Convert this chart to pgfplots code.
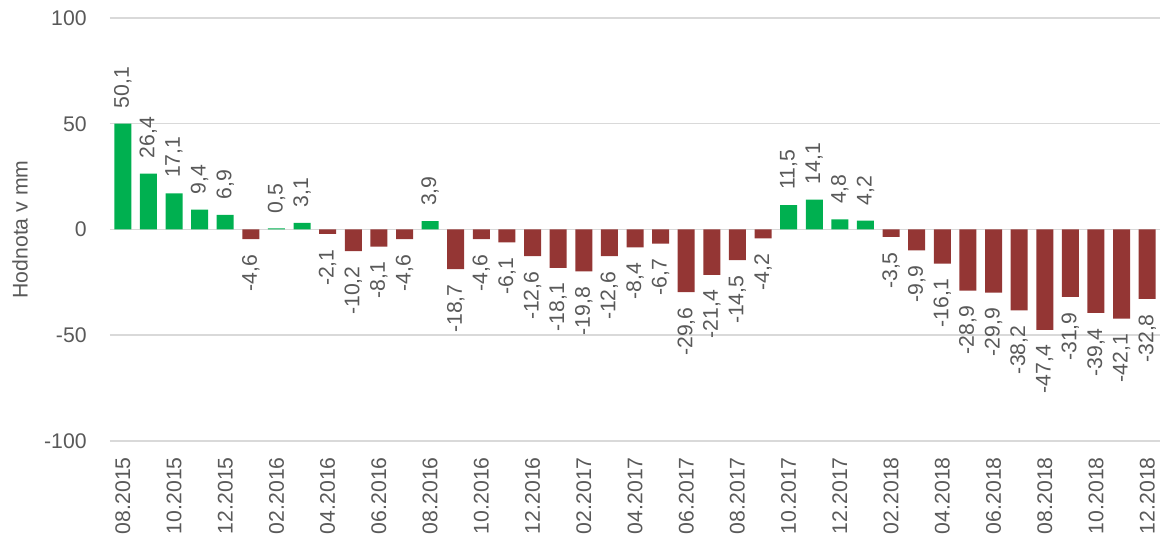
\documentclass[border=0pt]{standalone}
\usepackage{fontspec}
\setmainfont{Liberation Sans}
\usepackage{pgfplots}
\pgfplotsset{compat=1.18}
\definecolor{kladna}{HTML}{00B050}
\definecolor{zaporna}{HTML}{943634}
\definecolor{popis}{HTML}{595959}
\definecolor{mrizka}{HTML}{D9D9D9}

\newcommand{\pismo}{\fontsize{10.6}{12}\selectfont}

\begin{document}
\begin{tikzpicture}
\begin{axis}[
  scale only axis,
  width=525pt, height=211.5pt,
  xmin=-0.5, xmax=40.5,
  ymin=-100, ymax=100,
  axis line style={draw=none},
  tick style={draw=none},
  ytick={-100,-50,0,50,100},
  yticklabels={-100,-50,0,50,100},
  xtick={0,2,...,40},
  xticklabels={08.2015,10.2015,12.2015,02.2016,04.2016,06.2016,08.2016,10.2016,12.2016,02.2017,04.2017,06.2017,08.2017,10.2017,12.2017,02.2018,04.2018,06.2018,08.2018,10.2018,12.2018},
  major tick length=0pt,
  ymajorgrids,
  grid style={mrizka, line width=0.75pt},
  xticklabel style={rotate=90, anchor=east, inner sep=0pt, font=\pismo, text=popis},
  xticklabel shift=8pt,
  yticklabel style={anchor=east, inner sep=0pt, font=\pismo, text=popis},
  yticklabel shift=11.5pt,
  ylabel={Hodnota v mm},
  every axis y label/.style={at={(axis description cs:-0.0857,0.5)}, rotate=90, anchor=center, font=\pismo, text=popis},
  ybar, bar width=8.5pt, bar shift=0pt,
  point meta=explicit symbolic,
  nodes near coords,
  clip=false,
]

% kladne hodnoty
\addplot[fill=kladna, draw=none,
  nodes near coords style={rotate=90, anchor=west, inner sep=7.5pt, font=\pismo, text=popis}]
coordinates {
  (0,50.1) [50,1] (1,26.4) [26,4] (2,17.1) [17,1] (3,9.4) [9,4] (4,6.9) [6,9]
  (6,0.5) [0,5] (7,3.1) [3,1] (12,3.9) [3,9]
  (26,11.5) [11,5] (27,14.1) [14,1] (28,4.8) [4,8] (29,4.2) [4,2]
};

% zaporne hodnoty
\addplot[fill=zaporna, draw=none,
  nodes near coords style={rotate=90, anchor=east, inner sep=7.5pt, font=\pismo, text=popis}]
coordinates {
  (5,-4.6) [-4,6] (8,-2.1) [-2,1] (9,-10.2) [-10,2] (10,-8.1) [-8,1] (11,-4.6) [-4,6]
  (13,-18.7) [-18,7] (14,-4.6) [-4,6] (15,-6.1) [-6,1] (16,-12.6) [-12,6]
  (17,-18.1) [-18,1] (18,-19.8) [-19,8] (19,-12.6) [-12,6] (20,-8.4) [-8,4]
  (21,-6.7) [-6,7] (22,-29.6) [-29,6] (23,-21.4) [-21,4] (24,-14.5) [-14,5]
  (25,-4.2) [-4,2] (30,-3.5) [-3,5] (31,-9.9) [-9,9] (32,-16.1) [-16,1]
  (33,-28.9) [-28,9] (34,-29.9) [-29,9] (35,-38.2) [-38,2] (36,-47.4) [-47,4]
  (37,-31.9) [-31,9] (38,-39.4) [-39,4] (39,-42.1) [-42,1] (40,-32.8) [-32,8]
};

\end{axis}
\pgfresetboundingbox
\path[use as bounding box] (-55pt,-49.5pt) rectangle (525.5pt,220.5pt);
\end{tikzpicture}
\end{document}
